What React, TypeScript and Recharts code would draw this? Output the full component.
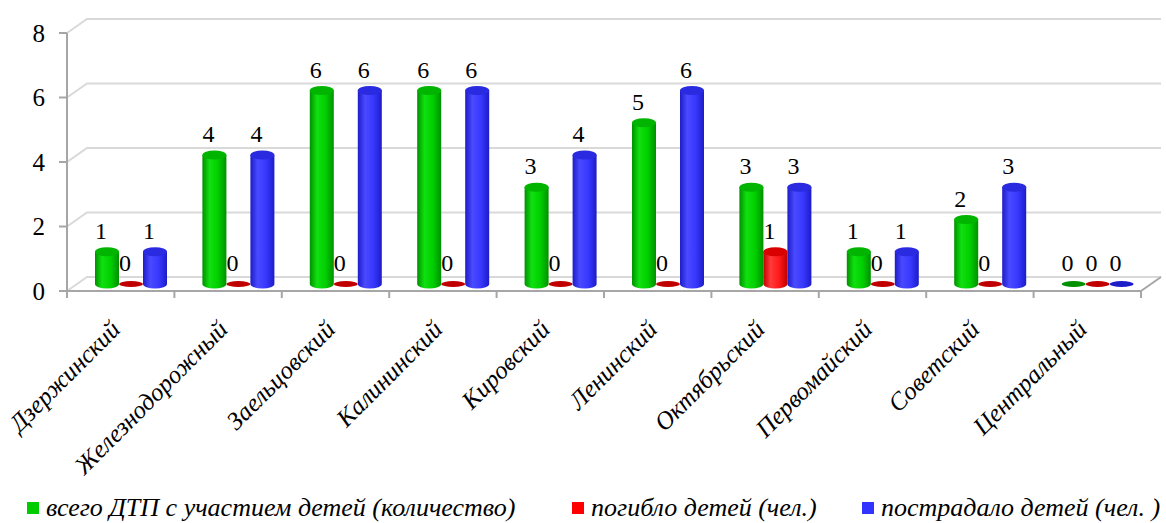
import React from "react"
import { BarChart, Bar, XAxis, YAxis, CartesianGrid, LabelList } from "recharts"

// districts and counts
const districts = [
  "Дзержинский",
  "Железнодорожный",
  "Заельцовский",
  "Калининский",
  "Кировский",
  "Ленинский",
  "Октябрьский",
  "Первомайский",
  "Советский",
  "Центральный",
]
const totalAccidents = [1, 4, 6, 6, 3, 5, 3, 1, 2, 0]
const childrenKilled = [0, 0, 0, 0, 0, 0, 1, 0, 0, 0]
const childrenInjured = [1, 4, 6, 6, 4, 6, 3, 1, 3, 0]
const yTicks = [0, 2, 4, 6, 8]

const seriesNames = [
  "всего ДТП с участием детей (количество)",
  "погибло детей (чел.)",
  "пострадало детей (чел. )",
]

const data = districts.map((name, i) => ({
  name,
  total: totalAccidents[i],
  killed: childrenKilled[i],
  injured: childrenInjured[i],
}))

const W = 1166
const H = 523
const PLOT_LEFT = 67
const PLOT_RIGHT = 1141
const BAND = (PLOT_RIGHT - PLOT_LEFT) / districts.length
const DX = 10 // depth shift of the cylinders
const DY = -7
const FONT = "Liberation Serif"
const AXIS = "#a6a6a6"
const GRID = "#d9d9d9"

const palettes: Record<string, { edge: string; mid: string; light: string; top: string }> = {
  green: { edge: "#009000", mid: "#00d000", light: "#10e010", top: "#00b400" },
  red: { edge: "#c00000", mid: "#ff1a1a", light: "#ff3a3a", top: "#d80000" },
  blue: { edge: "#1c1cc8", mid: "#3838ff", light: "#4a4aff", top: "#2a2ae0" },
}

const Cylinder = (props: any) => {
  const { x, y, width, height, color } = props
  const left = x + DX
  const right = x + DX + width
  const top = y + DY
  const bottom = y + (height || 0) + DY
  const rx = width / 2
  const ry = 4.5
  return (
    <g>
      {height > 0 && (
        <path
          d={`M${left},${top} L${left},${bottom} A${rx},${ry} 0 0 0 ${right},${bottom} L${right},${top} Z`}
          fill={`url(#body-${color})`}
        />
      )}
      <ellipse
        cx={left + rx}
        cy={top}
        rx={rx}
        ry={height > 0 ? ry : 3}
        fill={height > 0 ? palettes[color].top : palettes[color].edge}
      />
    </g>
  )
}

const ValueLabel = (props: any) => {
  const { x, y, width, value } = props
  return (
    <text
      x={x + width / 2 + DX - 6}
      y={y + DY - 13}
      textAnchor="middle"
      fontFamily={FONT}
      fontSize={24}
      fill="#000"
    >
      {value}
    </text>
  )
}

const CategoryTick = (props: any) => {
  const { x, y, payload, index } = props
  const tx = x + 1
  const ty = y + 40
  return (
    <g>
      <line x1={x - BAND / 2} y1={y} x2={x - BAND / 2} y2={y + 7} stroke={AXIS} strokeWidth={2} />
      {index === districts.length - 1 && (
        <line x1={x + BAND / 2} y1={y} x2={x + BAND / 2} y2={y + 7} stroke={AXIS} strokeWidth={2} />
      )}
      <text
        x={tx}
        y={ty}
        textAnchor="end"
        transform={`rotate(-45, ${tx}, ${ty})`}
        fontFamily={FONT}
        fontStyle="italic"
        fontSize={25}
        fill="#000"
      >
        {payload.value}
      </text>
    </g>
  )
}

const BackGridLine = (props: any) => {
  const { x1, x2, y1, index } = props
  const d = `M${x1},${y1} L${x1 + 20},${y1 - 14} L${x2 + 20},${y1 - 14}`
  return (
    <g key={`grid-${index}`}>
      <path d={d} fill="none" stroke={GRID} strokeWidth={2} />
      {Math.abs(y1 - 291) < 1 && (
        <line x1={x2} y1={y1} x2={x2 + 20} y2={y1 - 14} stroke={AXIS} strokeWidth={2} />
      )}
    </g>
  )
}

const legendColors = ["#00cc00", "#ff0000", "#3333ff"]
const legendLeft = [27, 572, 862]

export default function App() {
  return (
    <div style={{ position: "absolute", left: 0, top: 0, width: W, height: H, background: "#fff" }}>
      <BarChart
        width={W}
        height={H}
        data={data}
        margin={{ top: 33, right: W - PLOT_RIGHT, left: 0, bottom: 0 }}
        barGap={0}
        barSize={24}
      >
        <defs>
          {Object.keys(palettes).map((c) => (
            <linearGradient key={c} id={`body-${c}`} x1="0" y1="0" x2="1" y2="0">
              <stop offset="0%" stopColor={palettes[c].edge} />
              <stop offset="30%" stopColor={palettes[c].light} />
              <stop offset="65%" stopColor={palettes[c].mid} />
              <stop offset="100%" stopColor={palettes[c].edge} />
            </linearGradient>
          ))}
        </defs>
        <CartesianGrid vertical={false} horizontal={(p: any) => <BackGridLine {...p} />} />
        <XAxis
          dataKey="name"
          height={232}
          axisLine={{ stroke: AXIS, strokeWidth: 2 }}
          tickLine={false}
          tickSize={0}
          tickMargin={0}
          interval={0}
          tick={<CategoryTick />}
        />
        <YAxis
          width={PLOT_LEFT}
          domain={[0, 8]}
          ticks={yTicks}
          interval={0}
          axisLine={{ stroke: AXIS, strokeWidth: 2 }}
          tickLine={{ stroke: AXIS, strokeWidth: 2 }}
          tickSize={8}
          tickMargin={14}
          tick={{ fontFamily: FONT, fontSize: 25, fill: "#000" }}
        />
        <Bar dataKey="total" fill="#00cc00" isAnimationActive={false} shape={(p: any) => <Cylinder {...p} color="green" />}>
          <LabelList dataKey="total" content={<ValueLabel />} />
        </Bar>
        <Bar dataKey="killed" fill="#ff0000" isAnimationActive={false} shape={(p: any) => <Cylinder {...p} color="red" />}>
          <LabelList dataKey="killed" content={<ValueLabel />} />
        </Bar>
        <Bar dataKey="injured" fill="#3333ff" isAnimationActive={false} shape={(p: any) => <Cylinder {...p} color="blue" />}>
          <LabelList dataKey="injured" content={<ValueLabel />} />
        </Bar>
      </BarChart>
      {seriesNames.map((n, i) => (
        <div
          key={n}
          style={{
            position: "absolute",
            left: legendLeft[i],
            top: 493,
            display: "flex",
            alignItems: "center",
            fontFamily: FONT,
            fontStyle: "italic",
            fontSize: 26,
            whiteSpace: "nowrap",
          }}
        >
          <span style={{ display: "inline-block", width: 12, height: 12, background: legendColors[i], marginRight: 7 }} />
          {n}
        </div>
      ))}
    </div>
  )
}
